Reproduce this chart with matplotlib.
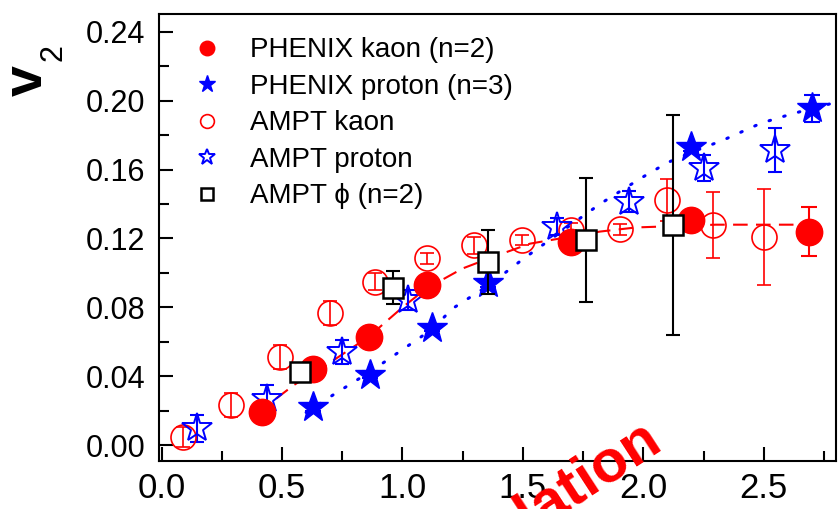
import numpy as np
import matplotlib.pyplot as plt

plt.rcParams['font.family'] = ['Liberation Sans', 'DejaVu Sans']

# PHENIX kaon (n=2)
phx_k_x = [0.415, 0.63, 0.86, 1.10, 1.70, 2.20, 2.69]
phx_k_y = [0.019, 0.044, 0.063, 0.093, 0.118, 0.131, 0.124]
phx_k_err = [0.002, 0.002, 0.002, 0.002, 0.002, 0.002, 0.014]

# PHENIX proton (n=3)
phx_p_x = [0.63, 0.866, 1.122, 1.357, 2.20, 2.70]
phx_p_y = [0.022, 0.041, 0.068, 0.094, 0.173, 0.1955]
phx_p_err = [0.002, 0.002, 0.002, 0.002, 0.002, 0.008]

# AMPT kaon
ampt_k_x = [0.09, 0.29, 0.49, 0.70, 0.886, 1.10, 1.295, 1.496, 1.70, 1.905, 2.10, 2.29, 2.50]
ampt_k_y = [0.0048, 0.0232, 0.0513, 0.0765, 0.0948, 0.1084, 0.116, 0.119, 0.125, 0.1253, 0.1423, 0.1278, 0.121]
ampt_k_err = [0.006, 0.007, 0.007, 0.007, 0.005, 0.003, 0.005, 0.003, 0.004, 0.003, 0.012, 0.019, 0.028]

# AMPT proton
ampt_p_x = [0.145, 0.436, 0.748, 1.025, 1.641, 1.939, 2.25, 2.548]
ampt_p_y = [0.0097, 0.0271, 0.0542, 0.0842, 0.1268, 0.1413, 0.1607, 0.1713]
ampt_p_err = [0.008, 0.008, 0.007, 0.006, 0.005, 0.006, 0.0075, 0.013]

# AMPT phi (n=2)
ampt_phi_x = [0.575, 0.962, 1.357, 1.762, 2.122]
ampt_phi_y = [0.0426, 0.0915, 0.1065, 0.119, 0.1278]
ampt_phi_err = [0.005, 0.0095, 0.0185, 0.036, 0.064]

# fit curves
fit_k_x = [0.40, 0.55, 0.70, 0.86, 1.00, 1.10, 1.25, 1.37, 1.53, 1.82, 1.97, 2.30, 2.70]
fit_k_y = [0.019, 0.035, 0.048, 0.063, 0.080, 0.091, 0.1026, 0.109, 0.117, 0.124, 0.1264, 0.128, 0.128]
fit_p_x = [0.60, 0.71, 0.87, 1.12, 1.21, 1.36, 1.50, 1.65, 1.82, 1.99, 2.10, 2.20, 2.33, 2.49, 2.60, 2.70, 2.80]
fit_p_y = [0.019, 0.029, 0.043, 0.067, 0.0795, 0.093, 0.108, 0.123, 0.140, 0.155, 0.164, 0.170, 0.177, 0.187, 0.1916, 0.1955, 0.199]

fig = plt.figure(figsize=(8.38, 5.09), dpi=100)
ax = fig.add_axes([0.1897, 0.0949, 0.8079, 0.8776])

ax.plot(fit_k_x, fit_k_y, color='red', lw=1.5, dashes=(7, 4), zorder=2)
ax.plot(fit_p_x, fit_p_y, color='blue', lw=2.2, linestyle=(0, (0.5, 4.5)),
        dash_capstyle='round', zorder=2)

# error bars (no legend)
ax.errorbar(ampt_k_x, ampt_k_y, yerr=ampt_k_err, fmt='none', ecolor='red',
            elinewidth=1.2, capsize=5, capthick=1.2, zorder=3)
ax.errorbar(ampt_p_x, ampt_p_y, yerr=ampt_p_err, fmt='none', ecolor='blue',
            elinewidth=1.5, capsize=5, capthick=1.5, zorder=3)
ax.errorbar(phx_k_x, phx_k_y, yerr=phx_k_err, fmt='none', ecolor='red',
            elinewidth=1.5, capsize=6, capthick=1.5, zorder=4)
ax.errorbar(phx_p_x, phx_p_y, yerr=phx_p_err, fmt='none', ecolor='blue',
            elinewidth=1.5, capsize=6, capthick=1.5, zorder=4)
ax.errorbar(ampt_phi_x, ampt_phi_y, yerr=ampt_phi_err, fmt='none', ecolor='black',
            elinewidth=1.5, capsize=5, capthick=1.5, zorder=6)

# markers
ax.plot(phx_k_x, phx_k_y, 'o', color='red', ms=19, mec='red', zorder=5,
        label='PHENIX kaon (n=2)')
ax.plot(phx_p_x, phx_p_y, '*', color='blue', ms=23, mec='blue', zorder=5,
        label='PHENIX proton (n=3)')
ax.plot(ampt_k_x, ampt_k_y, 'o', mfc='none', mec='red', mew=1.2, ms=18, zorder=3,
        label='AMPT kaon')
ax.plot(ampt_p_x, ampt_p_y, '*', mfc='none', mec='blue', mew=1.4, ms=22, zorder=3,
        label='AMPT proton')
ax.plot(ampt_phi_x, ampt_phi_y, 's', mfc='white', mec='black', mew=1.8, ms=15, zorder=7,
        label='AMPT ϕ (n=2)')

ax.set_xlim(-0.011, 2.80)
ax.set_ylim(-0.009, 0.2503)
ax.set_xticks(np.arange(0, 2.6, 0.5))
ax.set_xticks(np.arange(0.25, 2.8, 0.5), minor=True)
ax.set_yticks(np.arange(0, 0.25, 0.04))
ax.set_yticks(np.arange(0.02, 0.25, 0.04), minor=True)
ax.set_xticklabels(['0.0', '0.5', '1.0', '1.5', '2.0', '2.5'])
ax.set_yticklabels(['%.2f' % v for v in np.arange(0, 0.25, 0.04)])
ax.tick_params(which='both', direction='in', top=False, right=False, width=1.5)
ax.tick_params(which='major', length=10)
ax.tick_params(which='minor', length=7.5)
ax.tick_params(axis='x', labelsize=25, pad=8)
ax.tick_params(axis='y', labelsize=22, pad=10)
for s in ax.spines.values():
    s.set_linewidth(1.5)

leg = ax.legend(loc='upper left', bbox_to_anchor=(0.05, 0.948), frameon=False,
                fontsize=20, markerscale=0.55, handlelength=1.0, handletextpad=1.05,
                labelspacing=0.38, borderpad=0, borderaxespad=0)

# v2 label
fig.text(0.0334, 0.841, 'v', rotation=90, fontsize=40, fontweight='bold',
         ha='center', va='center')
fig.text(0.0644, 0.896, '2', rotation=90, fontsize=22,
         ha='center', va='center')

fig.text(664 / 838, 1 - 447 / 509, 'Simulation', rotation=33, rotation_mode='anchor',
         ha='right', va='baseline', fontsize=43, fontweight='bold', color='red')

fig.savefig('out.png', dpi=100)
